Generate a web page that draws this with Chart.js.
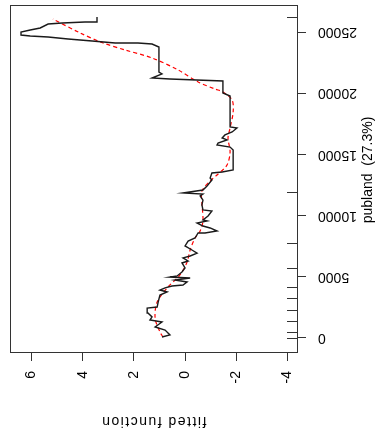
<!DOCTYPE html>
<html>
<head>
<meta charset="utf-8">
<style>
  html, body { margin: 0; padding: 0; background: #fff; }
  #wrap { width: 380px; height: 439px; }
</style>
</head>
<body>
<div id="wrap"><canvas id="gamPlot"></canvas></div>
<script src="https://cdn.jsdelivr.net/npm/chart.js@4/dist/chart.umd.min.js"></script>
<script>
// axis ticks
const pubTicks = [0, 5000, 10000, 15000, 20000, 25000];
const fitTicks = [-4, -2, 0, 2, 4, 6];

// partial fit (black) bottom to top
const partialPub = [80, 250, 650, 900, 1310, 1470, 1720, 2040, 2450, 2530, 2940, 3510, 3760, 3920, 4090, 4250, 4330, 4580, 4740, 4900,
  4980, 5070, 5390, 5720, 6130, 6290, 6540, 6700, 6940, 7190, 7520, 7920, 8170, 8580, 8580, 8740, 8990, 9150, 9400, 9560,
  9640, 9970, 10380, 10460, 10870, 11270, 11600, 11760, 11850, 12090, 12420, 12910, 13070, 13480, 13560, 13730, 15360, 15600, 15770, 15930,
  16180, 16340, 16590, 16830, 17160, 17240, 19770, 20020, 21000, 21160, 21240, 21570, 21730, 23770, 24020, 24100, 24100, 24260, 24430, 24590,
  24670, 24750, 25000, 25160, 25330, 25650, 25740, 25820, 25820, 26230];
const partialFit = [0.90, 0.59, 0.78, 1.17, 0.90, 1.37, 1.29, 1.45, 1.48, 1.09, 1.05, 0.98, 0.70, 0.98, 0.78, 0.51, 0.08, -0.08, 0.39, -0.20,
  0.59, 0.31, 0.12, 0.00, 0.12, -0.12, 0.08, -0.20, -0.47, -0.27, 0.00, -0.12, -0.39, -0.51, -0.78, -1.25, -0.98, -0.70, -0.47, -0.86,
  -0.70, -0.90, -1.05, -0.70, -0.66, -0.70, -0.59, -0.70, 0.08, -0.70, -0.86, -1.05, -0.98, -1.05, -1.45, -1.88, -1.88, -1.76, -1.25, -1.29,
  -1.64, -1.45, -1.56, -1.84, -2.03, -1.76, -1.76, -1.48, -1.48, 0.59, 1.29, 0.90, 1.02, 1.02, 1.29, 1.84, 2.73, 3.63, 4.57, 5.35,
  6.05, 6.41, 6.41, 6.05, 5.66, 5.35, 4.80, 3.91, 3.44, 3.44];

// smooth (red dashed)
const smoothPub = [80, 490, 1630, 2940, 4090, 5150, 6210, 7190, 8170, 8740, 9560, 11030, 12010, 12830, 13320,
  14130, 15200, 16340, 17160, 18460, 19440, 20100, 20340, 20920, 21900, 22880, 23530, 24100, 24920, 26060];
const smoothFit = [0.86, 0.98, 1.17, 1.09, 0.70, 0.20, -0.08, -0.20, -0.39, -0.59, -0.70, -0.66, -0.66, -0.98, -1.25,
  -1.64, -1.76, -1.68, -1.76, -1.88, -1.84, -1.48, -1.17, -0.51, 0.27, 1.29, 2.34, 3.20, 4.10, 5.16];

// rug along the publand axis
const rugPub = [0, 490, 1390, 2290, 3280, 4180, 5740, 7790, 11890, 26230];

const fontStr = '14px "Liberation Sans", Arial, sans-serif';

const rPlotDecor = {
  id: 'rPlotDecor',
  afterDatasetsDraw(chart) {
    const {ctx, chartArea: a, scales: {x, y}} = chart;
    ctx.save();
    ctx.strokeStyle = '#333';
    ctx.lineWidth = 1;
    ctx.strokeRect(a.left + 0.5, a.top + 0.5, a.right - a.left, a.bottom - a.top);

    // rug marks inside the right edge
    rugPub.forEach(v => {
      const py = Math.round(y.getPixelForValue(v)) + 0.5;
      ctx.beginPath();
      ctx.moveTo(a.right - 10, py);
      ctx.lineTo(a.right, py);
      ctx.stroke();
    });

    ctx.fillStyle = '#000';
    ctx.font = fontStr;

    // publand tick labels, upside down
    pubTicks.forEach(v => {
      ctx.save();
      ctx.translate(a.right + 21, y.getPixelForValue(v));
      ctx.rotate(Math.PI);
      ctx.textAlign = 'right';
      ctx.textBaseline = 'middle';
      ctx.fillText(String(v), 0, 0);
      ctx.restore();
    });

    // fitted tick labels, reading upwards
    fitTicks.forEach(v => {
      ctx.save();
      ctx.translate(x.getPixelForValue(v), a.bottom + 19);
      ctx.rotate(-Math.PI / 2);
      ctx.textAlign = 'right';
      ctx.textBaseline = 'middle';
      ctx.fillText(String(v), 0, 0);
      ctx.restore();
    });

    // axis titles
    ctx.save();
    ctx.translate((a.left + a.right) / 2, 421);
    ctx.rotate(Math.PI);
    ctx.textAlign = 'center';
    ctx.textBaseline = 'middle';
    ctx.letterSpacing = '1.5px';
    ctx.fillText('fitted function', 0, 0);
    ctx.restore();

    ctx.save();
    ctx.translate(368, 170);
    ctx.rotate(-Math.PI / 2);
    ctx.textAlign = 'center';
    ctx.textBaseline = 'middle';
    ctx.fillText('publand  (27.3%)', 0, 0);
    ctx.restore();

    ctx.restore();
  }
};

(function(){
  const ctx = document.getElementById('gamPlot');

  new Chart(ctx, {
    type: 'scatter',
    data: {
      datasets: [{
        label: 'partial',
        data: partialPub.map((p, i) => ({x: partialFit[i], y: p})),
        showLine: true,
        borderColor: '#1a1a1a',
        borderWidth: 1.4,
        pointRadius: 0,
        tension: 0
      }, {
        label: 'smooth',
        data: smoothPub.map((p, i) => ({x: smoothFit[i], y: p})),
        showLine: true,
        borderColor: '#ff0000',
        borderWidth: 1.2,
        borderDash: [4, 3],
        pointRadius: 0,
        tension: 0.3
      }]
    },
    options: {
      responsive: true,
      maintainAspectRatio: false,
      animation: false,
      layout: {
        padding: { top: 5, left: 10, right: 0, bottom: 0 }
      },
      scales: {
        x: {
          type: 'linear',
          position: 'bottom',
          reverse: true,
          min: -4.375,
          max: 6.84,
          afterBuildTicks: s => { s.ticks = fitTicks.map(v => ({value: v})); },
          afterFit: s => { s.height = 87; },
          ticks: { display: false },
          border: { display: false },
          grid: { drawOnChartArea: false, drawTicks: true, tickLength: 9, color: '#333', lineWidth: 1 }
        },
        y: {
          type: 'linear',
          position: 'right',
          min: -1144,
          max: 27206,
          afterBuildTicks: s => { s.ticks = pubTicks.map(v => ({value: v})); },
          afterFit: s => { s.width = 83; },
          ticks: { display: false },
          border: { display: false },
          grid: { drawOnChartArea: false, drawTicks: true, tickLength: 9, color: '#333', lineWidth: 1 }
        }
      },
      plugins: {
        legend: { display: false },
        tooltip: { enabled: false },
        title: { display: false }
      }
    },
    plugins: [rPlotDecor]
  });
})();
</script>
</body>
</html>
